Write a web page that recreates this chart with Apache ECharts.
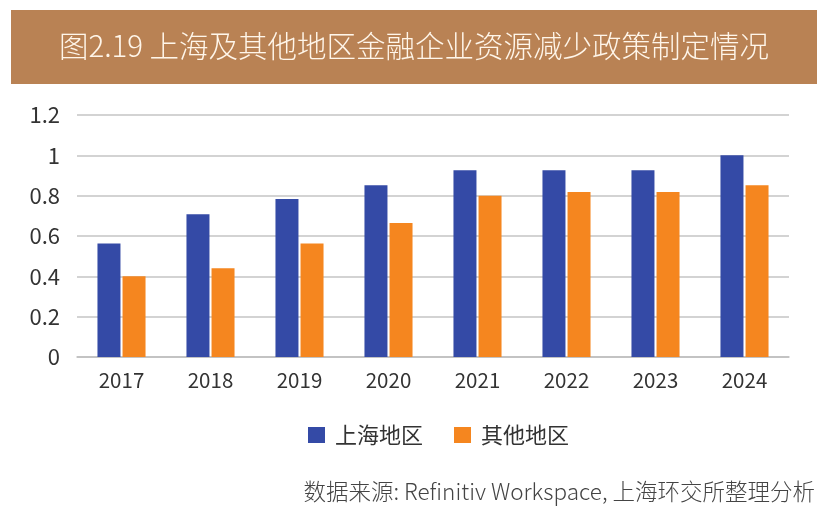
<!DOCTYPE html>
<html><head><meta charset="utf-8">
<script src="https://cdn.jsdelivr.net/npm/echarts@6/dist/echarts.min.js"></script>
<style>html,body{margin:0;padding:0;background:#fff}#c{width:828px;height:516px}</style>
</head><body><div id="c"></div>
<script>
const titleText = '图2.19 上海及其他地区金融企业资源减少政策制定情况';
const sourceText = '数据来源: Refinitiv Workspace, 上海环交所整理分析';
const categories = ['2017','2018','2019','2020','2021','2022','2023','2024'];
const seriesNames = ['上海地区','其他地区'];
const shanghai = [0.563, 0.708, 0.783, 0.852, 0.926, 0.926, 0.926, 1.0];
const others = [0.40, 0.44, 0.563, 0.664, 0.80, 0.818, 0.818, 0.852];
const yTicks = [0, 0.2, 0.4, 0.6, 0.8, 1, 1.2];

const font = '"Noto Sans CJK SC","Noto Sans",sans-serif';
const chart = echarts.init(document.getElementById('c'));
chart.setOption({
  animation: false,
  textStyle: {fontFamily: font},
  graphic: [
    {type:'rect', shape:{x:11, y:10, width:806, height:74}, style:{fill:'#B98254'}, z:-1},
    {type:'text', x:414, y:46, style:{text:titleText, fill:'#FFF6EA', font:'300 29.5px ' + font, textAlign:'center', textVerticalAlign:'middle'}},
    {type:'text', x:815, y:491, style:{text:sourceText, fill:'#444444', font:'300 22.5px ' + font, textAlign:'right', textVerticalAlign:'middle'}}
  ],
  legend: {
    data: seriesNames, top: 424, left: 308, padding: 0, itemWidth: 17, itemHeight: 16, itemGap: 31,
    icon: 'rect',
    textStyle: {fontSize: 22, color: '#333', fontFamily: font, padding: [0, 0, 0, 5]}
  },
  grid: {left: 77, right: 39, top: 115, bottom: 159, containLabel: false},
  xAxis: {
    type: 'category', data: categories,
    axisTick: {show: false},
    axisLine: {lineStyle: {color: '#BFBFBF', width: 1.5}},
    axisLabel: {fontSize: 20.5, color: '#333', margin: 13, fontFamily: font}
  },
  yAxis: {
    type: 'value', min: 0, max: 1.2, interval: 0.2,
    axisLabel: {fontSize: 22, color: '#333', margin: 17, fontFamily: font,
      formatter: v => { const t = yTicks.find(x => Math.abs(x - v) < 1e-6); return t === undefined ? '' : String(t); }},
    splitLine: {lineStyle: {color: '#C4C4C4', width: 1.5}},
    axisLine: {show: false}, axisTick: {show: false}
  },
  series: [
    {name: seriesNames[0], type: 'bar', data: shanghai, barWidth: 23, barGap: '9%', itemStyle: {color: '#344AA6'}},
    {name: seriesNames[1], type: 'bar', data: others, barWidth: 23, itemStyle: {color: '#F5861F'}}
  ]
});
</script></body></html>
